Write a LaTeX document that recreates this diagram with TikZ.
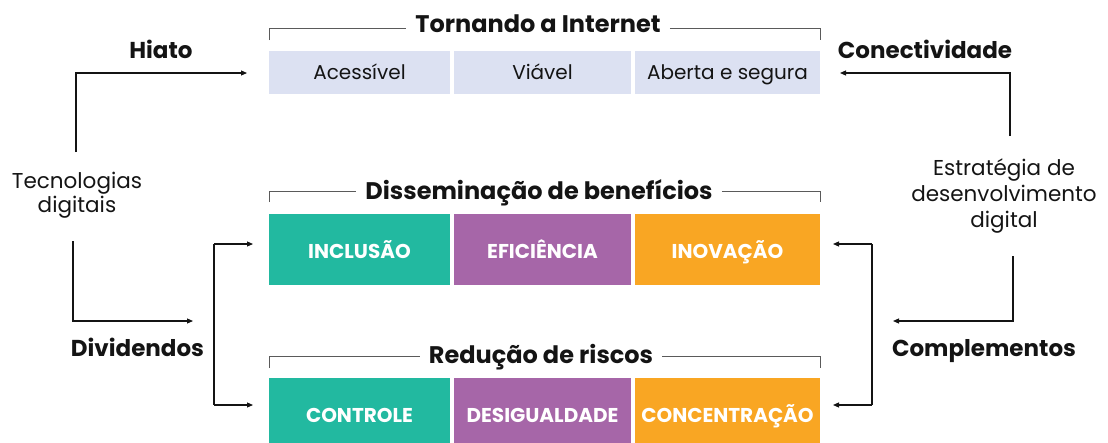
\documentclass[tikz,border=0pt]{standalone}
\usepackage{fontspec}
\setmainfont{Poppins}
\usetikzlibrary{arrows.meta,calc}
\definecolor{lav}{RGB}{220,225,242}
\definecolor{grn}{RGB}{34,185,160}
\definecolor{pur}{RGB}{166,102,168}
\definecolor{org}{RGB}{249,166,35}
\definecolor{ink}{RGB}{20,20,20}
\begin{document}
\begin{tikzpicture}[x=1pt,y=-1pt,
  box/.style={inner sep=0pt, outer sep=0pt, text=ink, text height=13pt, text depth=0pt, font=\fontsize{20}{24}\selectfont},
  wbox/.style={inner sep=0pt, outer sep=0pt, text=white, text height=18pt, text depth=0pt, font=\fontsize{20}{24}\selectfont\bfseries},
  ttl/.style={inner sep=0pt, anchor=base, text=ink, font=\fontsize{24}{28}\selectfont\bfseries},
  lbl/.style={inner sep=0pt, anchor=base, text=ink, font=\fontsize{23}{27}\selectfont\bfseries},
  plain/.style={inner sep=0pt, text=ink, align=center},
  brk/.style={draw=ink!70, line width=1pt},
  conn/.style={draw=ink, line width=1.1pt},
  arr/.style={conn, -{Triangle[length=6pt,width=5pt]}},
  c1/.style={minimum width=181pt}, c2/.style={minimum width=177pt}, c3/.style={minimum width=185pt}]
\useasboundingbox (0,0) rectangle (1108,442);
% row 1
\node[box,c1,fill=lav,minimum height=43pt] (acc) at (359.5,72.5) {Acessível};
\node[box,c2,fill=lav,minimum height=43pt] (via) at (542.5,72.5) {Viável};
\node[box,c3,fill=lav,minimum height=43pt] (abe) at (727.5,72.5) {Aberta e segura};
% row 2
\node[wbox,c1,fill=grn,minimum height=71pt] (inc) at (359.5,249.5) {INCLUSÃO};
\node[wbox,c2,fill=pur,minimum height=71pt] (efi) at (542.5,249.5) {EFICIÊNCIA};
\node[wbox,c3,fill=org,minimum height=71pt] (ino) at (727.5,249.5) {INOVAÇÃO};
% row 3
\node[wbox,c1,fill=grn,minimum height=71pt] (con) at (359.5,413.5) {CONTROLE};
\node[wbox,c2,fill=pur,minimum height=71pt] (des) at (542.5,413.5) {DESIGUALDADE};
\node[wbox,c3,fill=org,minimum height=71pt] (cnc) at (727.5,413.5) {CONCENTRAÇÃO};
% titles and brackets
\node[ttl] (t1) at (538,32) {Tornando a Internet};
\node[ttl] (t2) at (539,199) {Disseminação de benefícios};
\node[ttl] (t3) at (541,363) {Redução de riscos};
\draw[brk] (269,40) -- (269,28) -- ([xshift=-9pt]t1.west |- 0,28);
\draw[brk] ([xshift=9pt]t1.east |- 0,28) -- (820,28) -- (820,40);
\draw[brk] (269,202) -- (269,191) -- ([xshift=-9pt]t2.west |- 0,191);
\draw[brk] ([xshift=9pt]t2.east |- 0,191) -- (820,191) -- (820,202);
\draw[brk] (269,368) -- (269,356) -- ([xshift=-9pt]t3.west |- 0,356);
\draw[brk] ([xshift=9pt]t3.east |- 0,356) -- (820,356) -- (820,368);
% side texts
\node[plain, font=\fontsize{21.5}{24.5}\selectfont] (tec) at (77,195) {Tecnologias\\digitais};
\node[plain, font=\fontsize{21.5}{26}\selectfont] (est) at (1004,196) {Estratégia de\\desenvolvimento\\digital};
\node[lbl] (hia) at (161,58) {Hiato};
\node[lbl] (cnt) at (925,58) {Conectividade};
\node[lbl] (div) at (137.5,356) {Dividendos};
\node[lbl] (cmp) at (984,356) {Complementos};
% coordinates
\coordinate (h0) at (76,152);
\coordinate (h1) at (247,73);
\coordinate (d0) at (73,241);
\coordinate (d1) at (193,321);
\coordinate (lb1) at (214,244);
\coordinate (lb2) at (214,405);
\coordinate (k0) at (1010,136);
\coordinate (k1) at (840,73);
\coordinate (m0) at (1013,256);
\coordinate (m1) at (893,321);
\coordinate (rb1) at (872,244);
\coordinate (rb2) at (872,405);
% connectors
\draw[arr] (h0) |- (h1);
\draw[arr] (d0) |- (d1);
\draw[conn] (lb1) -- (lb2);
\draw[arr] (lb1) -- ($(lb1 -| inc.west)+(-16,0)$);
\draw[arr] (lb2) -- ($(lb2 -| con.west)+(-16,0)$);
\draw[arr] (k0) |- (k1);
\draw[arr] (m0) |- (m1);
\draw[conn] (rb1) -- (rb2);
\draw[arr] (rb1) -- ($(rb1 -| ino.east)+(13,0)$);
\draw[arr] (rb2) -- ($(rb2 -| cnc.east)+(13,0)$);
\end{tikzpicture}
\end{document}
